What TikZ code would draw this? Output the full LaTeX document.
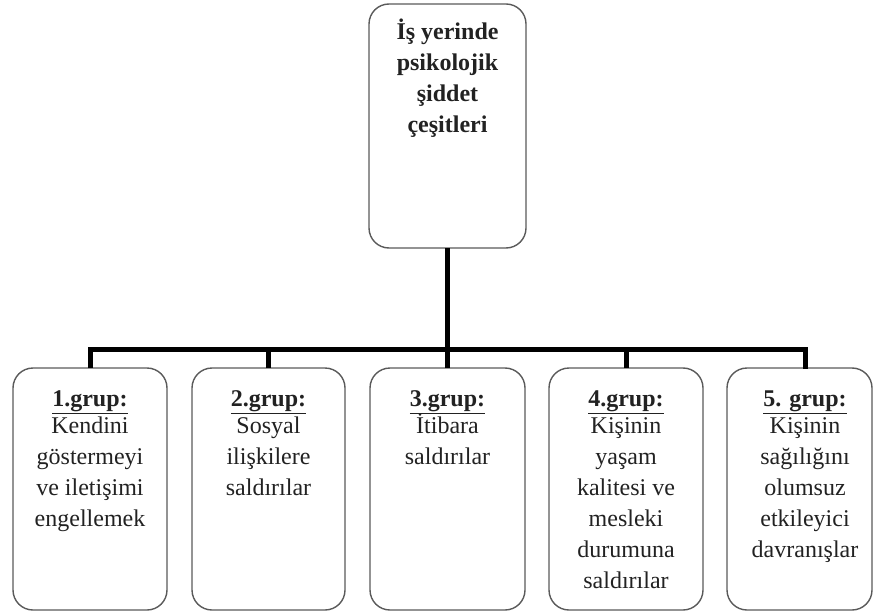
\documentclass[tikz,border=0pt]{standalone}
\usepackage{fontspec}
\setmainfont{Liberation Serif}
\definecolor{boxline}{HTML}{5A5A5A}
\definecolor{txt}{HTML}{222222}
\newcommand{\boxtext}[4]{% width, height, baseline offset, text
  \begin{minipage}[c][#2][t]{#1}\vspace*{\dimexpr#3-20pt\relax}%
  \fontsize{24}{31}\selectfont\color{txt}\centering\rule{0pt}{20pt}#4\par\end{minipage}}
\newcommand{\grp}[1]{\textbf{\underline{#1}}\\[-4pt]}
\tikzset{
  box/.style={draw=boxline, line width=1.4pt, rounded corners=20pt, fill=white,
    inner sep=0pt, outer sep=0pt},
  conn/.style={draw=black, line width=5pt, line join=miter}
}
\begin{document}
\begin{tikzpicture}[x=1pt,y=-1pt]
\useasboundingbox (0,0) rectangle (874,612);
% nodes
\node[box] (top) at (447.5,126) {\boxtext{157pt}{244pt}{35pt}{\bfseries İş yerinde\\psikolojik\\şiddet\\çeşitleri}};
\node[box] (g1) at (90,489) {\boxtext{154pt}{242pt}{38pt}{\grp{1.grup:}Kendini\\göstermeyi\\ve iletişimi\\engellemek}};
\node[box] (g2) at (268.5,489) {\boxtext{153pt}{242pt}{38pt}{\grp{2.grup:}Sosyal\\ilişkilere\\saldırılar}};
\node[box] (g3) at (447.5,489) {\boxtext{155pt}{242pt}{38pt}{\grp{3.grup:}İtibara\\saldırılar}};
\node[box] (g4) at (626,489) {\boxtext{154pt}{242pt}{38pt}{\grp{4.grup:}Kişinin\\yaşam\\kalitesi ve\\mesleki\\durumuna\\saldırılar}};
\node[box] (g5) at (799.5,489) {\boxtext{145pt}{242pt}{38pt}{\leftskip=11pt plus 1fil\grp{5. grup:}Kişinin\\sağılığını\\olumsuz\\etkileyici\\davranışlar}};
% connectors
\coordinate (bar) at (448,349);
\coordinate (s5) at (805,368.5);
\draw[conn] (top.south) -- (top.south |- bar);
\draw[conn] (g1.north) |- (bar) -| (s5);
\draw[conn] (g2.north) -- (g2.north |- bar);
\draw[conn] (g3.north) -- (g3.north |- bar);
\draw[conn] (g4.north) -- (g4.north |- bar);
\end{tikzpicture}
\end{document}
